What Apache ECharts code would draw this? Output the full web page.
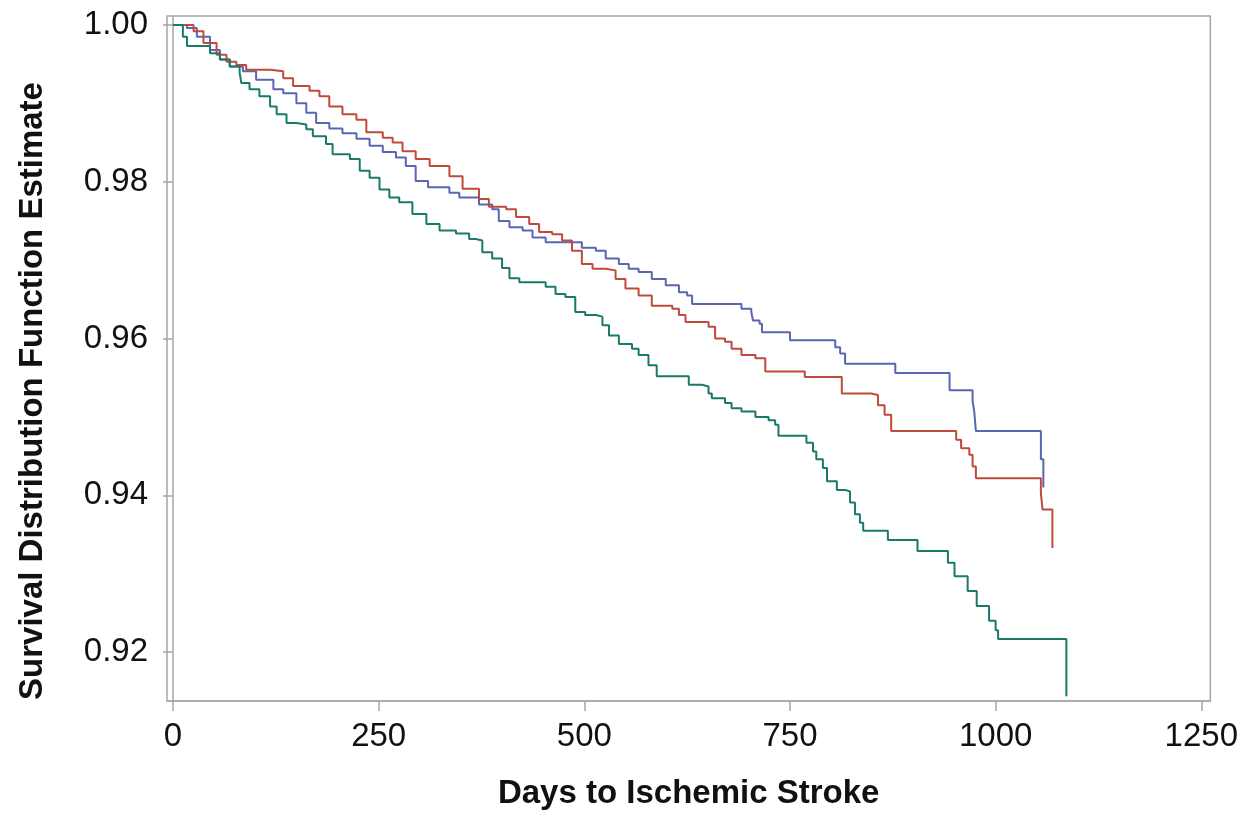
<!DOCTYPE html>
<html>
<head>
<meta charset="utf-8">
<script src="https://cdn.jsdelivr.net/npm/echarts@6/dist/echarts.min.js"></script>
<style>
  html, body { margin: 0; padding: 0; background: #fff; }
  #chart { width: 1241px; height: 815px; }
</style>
</head>
<body>
<div id="chart"></div>
<script>
// Tick labels
const xTicks = [0, 250, 500, 750, 1000, 1250];
const yTicks = [0.92, 0.94, 0.96, 0.98, 1.00];
const xTitle = 'Days to Ischemic Stroke';
const yTitle = 'Survival Distribution Function Estimate';

// Blue curve: [day, survival]
const blueDays = [0,17,29,45,57,69,85,101,122,134,150,162,174,190,206,223,239,255,271,283,295,310,336,348,372,388,396,409,425,437,453,497,514,526,542,554,566,582,599,615,625,631,691,703,705,713,716,750,805,811,817,878,944,972,974,976,1055,1058];
const blueSurv = [1.0000,0.9996,0.9985,0.9968,0.9956,0.9947,0.9941,0.9930,0.9918,0.9913,0.9900,0.9888,0.9875,0.9868,0.9862,0.9855,0.9846,0.9838,0.9831,0.9820,0.9801,0.9793,0.9786,0.9780,0.9771,0.9765,0.9750,0.9742,0.9738,0.9729,0.9723,0.9716,0.9712,0.9702,0.9695,0.9689,0.9685,0.9676,0.9668,0.9659,0.9655,0.9644,0.9638,0.9634,0.9623,0.9619,0.9608,0.9598,0.9589,0.9581,0.9568,0.9556,0.9534,0.9520,0.9507,0.9482,0.9446,0.9410];

// Red curve
const redDays = [0,25,37,53,65,77,89,118,134,146,166,178,190,206,223,235,255,267,279,295,312,336,352,372,384,405,417,433,445,461,473,485,497,510,526,538,550,566,582,607,615,623,651,659,671,679,691,708,720,768,813,849,857,865,873,952,958,968,972,976,1055,1057,1069];
const redSurv = [1.0000,0.9992,0.9977,0.9962,0.9953,0.9949,0.9943,0.9941,0.9932,0.9922,0.9916,0.9909,0.9896,0.9886,0.9879,0.9863,0.9856,0.9850,0.9839,0.9829,0.9820,0.9807,0.9791,0.9778,0.9768,0.9765,0.9755,0.9746,0.9736,0.9733,0.9725,0.9712,0.9695,0.9689,0.9687,0.9676,0.9664,0.9655,0.9642,0.9638,0.9630,0.9621,0.9615,0.9600,0.9596,0.9587,0.9579,0.9575,0.9558,0.9551,0.9530,0.9528,0.9515,0.9503,0.9482,0.9471,0.9460,0.9452,0.9437,0.9422,0.9403,0.9382,0.9333];

// Green curve
const greenDays = [0,12,17,45,57,69,81,83,93,105,118,126,138,150,162,170,186,194,215,227,239,251,263,275,291,308,324,344,360,368,376,388,400,409,421,453,465,477,489,501,514,522,530,542,558,566,578,588,627,643,651,655,671,679,691,708,724,732,736,770,778,782,790,795,807,817,823,829,835,839,869,905,942,950,966,977,992,1000,1003,1086];
const greenSurv = [1.0000,0.9985,0.9973,0.9964,0.9956,0.9947,0.9939,0.9926,0.9918,0.9909,0.9896,0.9886,0.9875,0.9873,0.9867,0.9858,0.9848,0.9835,0.9829,0.9814,0.9805,0.9790,0.9780,0.9774,0.9759,0.9746,0.9738,0.9734,0.9727,0.9725,0.9710,0.9702,0.9690,0.9677,0.9672,0.9666,0.9657,0.9653,0.9634,0.9630,0.9628,0.9617,0.9604,0.9593,0.9587,0.9579,0.9566,0.9552,0.9541,0.9539,0.9530,0.9524,0.9518,0.9511,0.9507,0.9500,0.9496,0.9490,0.9476,0.9467,0.9456,0.9446,0.9435,0.9418,0.9407,0.9405,0.9391,0.9376,0.9365,0.9355,0.9343,0.9329,0.9314,0.9297,0.9278,0.9259,0.9240,0.9228,0.9217,0.9144];

const zip = (a, b) => a.map((v, i) => [v, b[i]]);

const axisColor = '#a6a6a6';
const font = 'Liberation Sans, Arial, Helvetica, sans-serif';

const chart = echarts.init(document.getElementById('chart'), null, { renderer: 'canvas' });

function stepSeries(name, days, surv, color) {
  return {
    name: name,
    type: 'line',
    step: 'end',
    data: zip(days, surv),
    showSymbol: false,
    symbol: 'none',
    lineStyle: { color: color, width: 2 },
    animation: false
  };
}

chart.setOption({
  backgroundColor: '#ffffff',
  animation: false,
  grid: {
    left: 167, top: 16, right: 28, bottom: 111,
    show: true, borderColor: axisColor, borderWidth: 1.5, backgroundColor: 'transparent'
  },
  graphic: [{
    type: 'text',
    x: 33, y: 391,
    rotation: Math.PI / 2,
    style: {
      text: yTitle,
      fontFamily: font, fontSize: 33, fontWeight: 'bold', fill: '#111',
      align: 'center', verticalAlign: 'middle'
    }
  }],
  xAxis: {
    type: 'value',
    min: -7.3,
    max: 1261,
    name: xTitle,
    nameLocation: 'middle',
    nameGap: 76,
    nameTextStyle: { fontFamily: font, fontSize: 33, fontWeight: 'bold', color: '#111' },
    axisLine: { show: true, lineStyle: { color: axisColor, width: 1.5 } },
    axisTick: { show: true, length: 10, lineStyle: { color: axisColor, width: 1.5 }, customValues: xTicks },
    axisLabel: { fontFamily: font, fontSize: 33, color: '#111', margin: 19, customValues: xTicks, formatter: v => String(v) },
    splitLine: { show: false }
  },
  yAxis: {
    type: 'value',
    min: 0.91378,
    max: 1.00114,
    axisLine: { show: true, lineStyle: { color: axisColor, width: 1.5 } },
    axisTick: { show: true, length: 10, lineStyle: { color: axisColor, width: 1.5 }, customValues: yTicks },
    axisLabel: { fontFamily: font, fontSize: 33, color: '#111', margin: 19, customValues: yTicks, formatter: v => v.toFixed(2) },
    splitLine: { show: false }
  },
  series: [
    stepSeries('Blue', blueDays, blueSurv, '#5a66b2'),
    stepSeries('Red', redDays, redSurv, '#c04a3b'),
    stepSeries('Green', greenDays, greenSurv, '#197a69')
  ]
});
</script>
</body>
</html>
